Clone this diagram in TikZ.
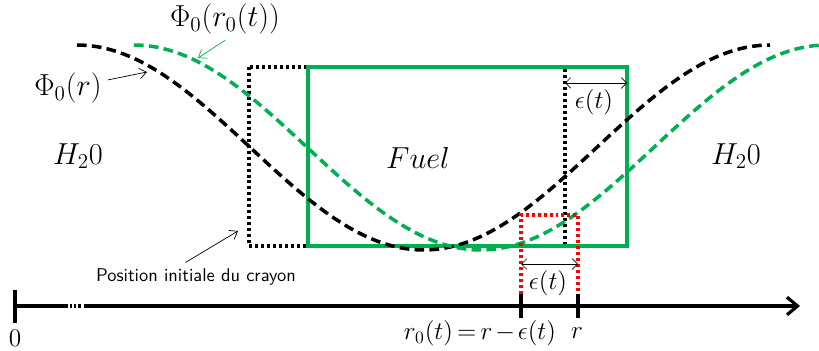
\documentclass[tikz,border=0pt]{standalone}
\usepackage{tikz}
\usetikzlibrary{arrows.meta}
\definecolor{fuelGreen}{HTML}{00B050}
\definecolor{shiftRed}{HTML}{FF0000}

\begin{document}
\begin{tikzpicture}[x=0.02cm, y=-0.02cm,
  flux/.style={line width=2pt, dash pattern=on 5.5pt off 3pt},
  initbox/.style={draw=black, line width=2pt, dash pattern=on 1.7pt off 1.7pt},
  fuelbox/.style={draw=fuelGreen, line width=1.9pt},
  shiftbox/.style={draw=shiftRed, line width=2pt, dash pattern=on 1.7pt off 1.7pt},
  dim/.style={thin, {Straight Barb[length=3pt,width=6pt]}-{Straight Barb[length=3pt,width=6pt]}},
  note/.style={thin, -{Straight Barb[length=4pt,width=6pt]}},
  axis/.style={line width=1.8pt},
  tickmark/.style={line width=2.4pt},
  big/.style={font=\fontsize{17.28}{20}\selectfont},
  mid/.style={font=\fontsize{14.4}{17}\selectfont}]
  \useasboundingbox (0,0) rectangle (819,351);
  % boxes
  \coordinate (init nw) at (249,67);
  \coordinate (init se) at (565,246);
  \coordinate (fuel nw) at (308,67);
  \coordinate (fuel se) at (627,246);
  \draw[initbox] (init nw) rectangle (init se);
  \draw[fuelbox] (fuel nw) rectangle (fuel se);
  % flux curves
  \draw[flux] plot[domain=77:770, samples=120] (\x, {147.5-102.5*cos((\x-77)/693*360)});
  \draw[flux, fuelGreen] plot[domain=134:819, samples=120] (\x, {147.5-102.5*cos((\x-134)/693*360)});
  % shift
  \coordinate (r0 top) at (521,215);
  \coordinate (r top) at (578,215);
  \coordinate (r0 tick) at (521,294);
  \coordinate (r tick) at (578,294);
  \draw[shiftbox] (r0 tick) -- (r0 top) -- (r top) -- (r tick);
  % axis
  \coordinate (o) at (15,306);
  \coordinate (brk a) at (63,306);
  \coordinate (brk b) at (84,306);
  \coordinate (axis end) at (800,306);
  \draw[axis] (o) -- (brk a);
  \draw[axis, dash pattern=on 2.8pt off 1.2pt on 1.2pt off 1.2pt on 1.2pt off 1.2pt on 1.2pt off 20pt] (brk a) -- (brk b);
  \draw[axis, -{Straight Barb[length=6pt,width=10pt]}] (brk b) -- (axis end);
  \draw[tickmark] (15,290) -- (15,323);
  \draw[tickmark] (r0 tick) -- (521,318);
  \draw[tickmark] (r tick) -- (578,318);
  % epsilon
  \coordinate (eps a) at (565,83);
  \coordinate (eps b) at (627,83);
  \draw[dim] (eps a) -- (eps b);
  \node[mid] (eps top) at (594,102) {$\epsilon(t)$};
  \coordinate (eps c) at (521,264);
  \coordinate (eps d) at (578,264);
  \draw[dim] (eps c) -- (eps d);
  \node[mid] (eps low) at (548,283) {$\epsilon(t)$};
  % labels
  \node[big] (water l) at (78,156) {$H_2 0$};
  \node[big] (water r) at (736,156) {$H_2 0$};
  \node[big] (fuel) at (418,158) {$Fuel$};
  \node[big] (phir) at (68,88) {$\Phi_0(r)$};
  \node[big] (phirt) at (225,19) {$\Phi_0(r_0(t))$};
  \coordinate (phir tip) at (147,72);
  \coordinate (phirt tip) at (198,58);
  \draw[note] (phir) -- (phir tip);
  \draw[note, fuelGreen] (phirt.south) -- (phirt tip);
  \node[font=\sffamily\fontsize{10.5}{12}\selectfont] (pos) at (196,277) {Position initiale du crayon};
  \coordinate (pos tip) at (238,231);
  \draw[note] ([xshift=-6]pos.north) -- (pos tip);
  \node[mid] (zero) at (15,338) {$0$};
  \node[mid] (r0 lab) at (480,333) {$\thickmuskip=3mu \medmuskip=2mu r_0(t) = r - \epsilon(t)$};
  \node[mid] (r lab) at (577,333) {$r$};
\end{tikzpicture}
\end{document}
